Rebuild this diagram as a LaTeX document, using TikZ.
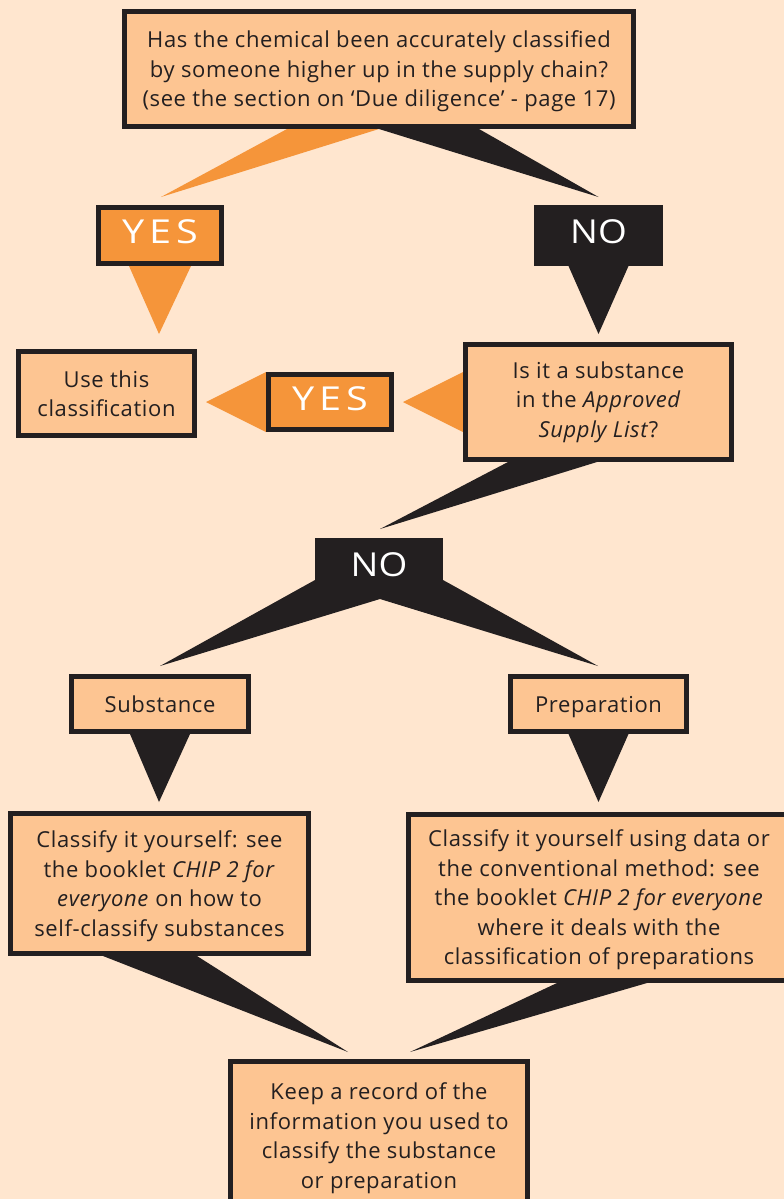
\documentclass[tikz,border=0pt]{standalone}
\usepackage{fontspec}
\setmainfont[LetterSpace=2.8]{Open Sans}
\newfontfamily\yesfont[FakeStretch=1.2]{Open Sans}
\newfontfamily\nofont[FakeStretch=1.12]{Open Sans}
\usetikzlibrary{calc}
\definecolor{bgc}{HTML}{FFE6CF}
\definecolor{boxc}{HTML}{FDC592}
\definecolor{orng}{HTML}{F5953A}
\definecolor{ink}{HTML}{231F20}
\pgfdeclarelayer{bg}
\pgfsetlayers{bg,main}
\newcommand\yestext{Y\kern5pt E\kern5pt S}
\begin{document}
\begin{tikzpicture}[x=1pt,y=-1pt,
  box/.style={draw=ink, line width=5pt, fill=boxc, text=ink, align=center,
    font=\fontsize{22}{29.5}\selectfont, inner sep=0pt},
  oneline/.style={text height=22pt, text depth=5pt},
  lowered/.style={text depth=0pt},
  yesbox/.style={draw=ink, line width=5pt, fill=orng, text=white, inner sep=0pt,
    font=\yesfont\fontsize{33}{33}\selectfont, minimum width=123pt, minimum height=56pt,
    text height=16pt, text depth=0pt},
  nobox/.style={draw=ink, line width=5pt, fill=ink, text=white, inner sep=0pt,
    font=\nofont\fontsize{33}{33}\selectfont, minimum width=124pt, minimum height=56pt,
    text height=16pt, text depth=0pt},
  owedge/.style={fill=orng},
  bwedge/.style={fill=ink}]
\useasboundingbox (0,0) rectangle (784,1199);
\clip (0,0) rectangle (784,1199);
\begin{pgfonlayer}{bg}
\fill[bgc] (0,0) rectangle (784,1199);
\end{pgfonlayer}

\node[box, lowered, minimum width=509pt, minimum height=115pt] (top) at (379,69)
  {Has the chemical been accurately classified\\by someone higher up in the supply chain?\\(see the section on ‘Due diligence’ - page 17)};
\node[yesbox] (yes1) at (160,235.5) {\yestext};
\node[nobox] (no1) at (598.5,235.5) {NO};
\node[box, minimum width=176pt, minimum height=84pt] (use) at (106.5,393.5)
  {Use this\\classification};
\node[yesbox, minimum height=55pt] (yes2) at (330,402) {\yestext};
\node[box, minimum width=266pt, minimum height=115pt] (appr) at (598.5,402)
  {Is it a substance\\in the \textit{Approved}\\\textit{Supply List}?};
\node[nobox, minimum width=123pt, minimum height=49pt, text height=22pt] (no2) at (379,565) {NO};
\node[box, oneline, minimum width=177pt, minimum height=55pt] (sub) at (160,704) {Substance};
\node[box, oneline, minimum width=176pt, minimum height=55pt] (prep) at (598.5,704) {Preparation};
\node[box, lowered, minimum width=298pt, minimum height=140pt] (cl1) at (159.5,883.5)
  {Classify it yourself: see\\the booklet \textit{CHIP 2 for}\\\textit{everyone} on how to\\self-classify substances};
\node[box, lowered, minimum width=381pt, minimum height=166pt] (cl2) at (599,897.5)
  {Classify it yourself using data or\\the conventional method: see\\the booklet \textit{CHIP 2 for everyone}\\where it deals with the\\classification of preparations};
\node[box, lowered, minimum width=297pt, minimum height=148pt] (keep) at (379,1135.5)
  {Keep a record of the\\information you used to\\classify the substance\\or preparation};

\begin{pgfonlayer}{bg}
\fill[owedge] ($(top.south)+(-92,0)$) -- (top.south) -- ($(yes1.north)+(1,-8)$) -- cycle;
\fill[bwedge] (top.south) -- ($(top.south)+(100,0)$) -- ($(no1.north)+(0,-8)$) -- cycle;
\fill[owedge] ($(yes1.south)+(-31,0)$) -- ($(yes1.south)+(31,0)$) -- ($(yes1.south)+(-1,68)$) -- cycle;
\fill[bwedge] ($(no1.south)+(-30,0)$) -- ($(no1.south)+(30,0)$) -- ($(no1.south)+(0,68)$) -- cycle;
\fill[owedge] ($(yes2.west)+(0,-30)$) -- ($(yes2.west)+(0,30)$) -- ($(yes2.west)+(-60,0)$) -- cycle;
\fill[owedge] ($(appr.west)+(0,-30)$) -- ($(appr.west)+(0,30)$) -- ($(appr.west)+(-60,0)$) -- cycle;
\fill[bwedge] ($(appr.south)+(-90.5,0)$) -- ($(appr.south)+(-1.5,0)$) -- ($(no2.north)+(1,-9)$) -- cycle;
\fill[bwedge] ($(no2.center)+(-64,15)$) -- ($(no2.center)+(-219,101)$) -- ($(no2.center)+(1,34)$)
  -- ($(no2.center)+(219,101)$) -- ($(no2.center)+(64,15)$) -- cycle;
\fill[bwedge] ($(sub.south)+(-30,0)$) -- ($(sub.south)+(30,0)$) -- ($(sub.south)+(-1,68)$) -- cycle;
\fill[bwedge] ($(prep.south)+(-30,0)$) -- ($(prep.south)+(30,0)$) -- ($(prep.south)+(0,68)$) -- cycle;
\fill[bwedge] ($(cl1.south)+(-56.5,0)$) -- ($(cl1.south)+(37.5,0)$) -- ($(keep.north)+(-31,-7)$) -- cycle;
\fill[bwedge] ($(cl2.south)+(-42,0)$) -- ($(cl2.south)+(48,0)$) -- ($(keep.north)+(31,-7)$) -- cycle;
\end{pgfonlayer}
\end{tikzpicture}
\end{document}
